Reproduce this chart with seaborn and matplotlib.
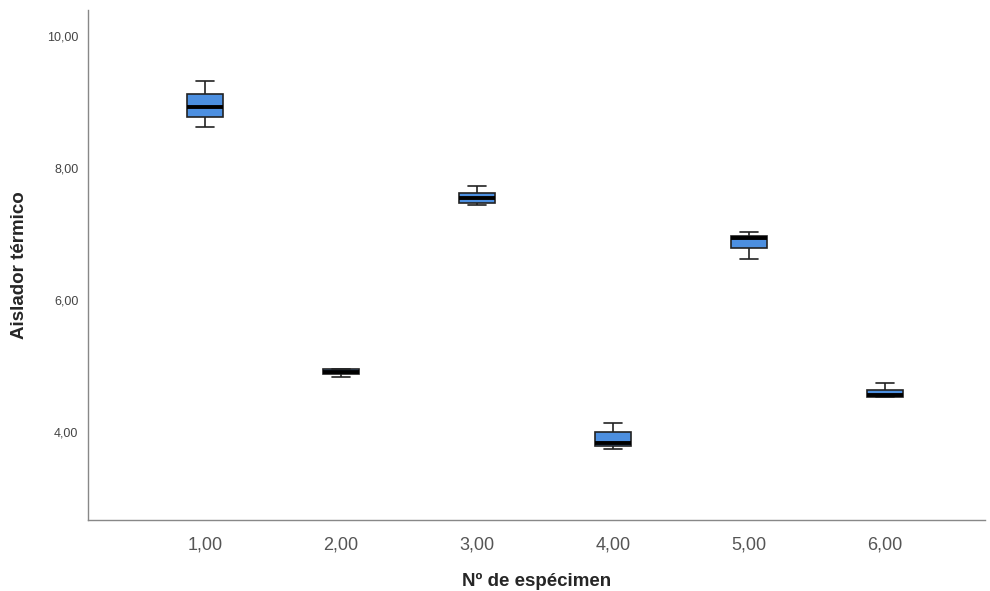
import pandas as pd
import matplotlib
matplotlib.use('Agg')
import matplotlib.pyplot as plt
import seaborn as sns

# Five-number summaries (whisker low, Q1, median, Q3, whisker high)
specimens = ['1,00', '2,00', '3,00', '4,00', '5,00', '6,00']
whisker_low = [8.62, 4.83, 7.44, 3.74, 6.62, 4.53]
q1 = [8.77, 4.88, 7.47, 3.79, 6.79, 4.54]
median = [8.92, 4.91, 7.55, 3.83, 6.94, 4.56]
q3 = [9.12, 4.95, 7.62, 4.00, 6.97, 4.64]
whisker_high = [9.32, 4.95, 7.73, 4.14, 7.03, 4.74]

# With 5 points per group, the linear quartiles land exactly on q1/median/q3
rows = []
for i, s in enumerate(specimens):
    for v in (whisker_low[i], q1[i], median[i], q3[i], whisker_high[i]):
        rows.append({'specimen': s, 'value': v})
data = pd.DataFrame(rows)

sns.set_style('white')
plt.rcParams['font.family'] = ['Liberation Sans', 'DejaVu Sans']

fig = plt.figure(figsize=(9.9, 5.91), dpi=100)
ax = fig.add_axes([0.089, 0.12, 0.906, 0.863])

sns.boxplot(data=data, x='specimen', y='value', order=specimens, ax=ax,
            color='#4C8FE0', saturation=1, width=0.265, whis=float('inf'),
            linewidth=1.2, linecolor='#222222',
            medianprops={'color': 'black', 'linewidth': 2.8},
            capprops={'color': '#222222', 'linewidth': 1.2})

ax.set_xlim(-0.86, 5.735)
ax.set_ylim(2.67, 10.39)
ax.set_yticks([4, 6, 8, 10])
ax.set_yticklabels(['4,00', '6,00', '8,00', '10,00'])

for side in ['top', 'right']:
    ax.spines[side].set_visible(False)
for side in ['left', 'bottom']:
    ax.spines[side].set_color('#888888')
    ax.spines[side].set_linewidth(1.0)

ax.tick_params(axis='y', length=0, pad=7, labelsize=9, labelcolor='#444444')
ax.tick_params(axis='x', length=0, pad=12, labelsize=13, labelcolor='#555555')

ax.set_xlabel('Nº de espécimen', fontsize=13.5, fontweight='bold', labelpad=14)
ax.set_ylabel('Aislador térmico', fontsize=13.5, fontweight='bold', labelpad=14)

fig.savefig('out.png', dpi=100)
